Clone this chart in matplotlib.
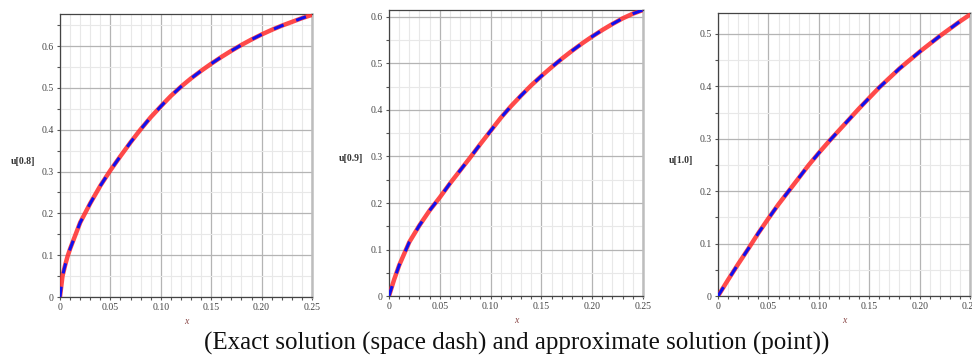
import numpy as np
import matplotlib
matplotlib.use("Agg")
import matplotlib.pyplot as plt
from matplotlib.ticker import MultipleLocator, FormatStrFormatter

# values, u(x) at t = 0.8, 0.9, 1.0
x08 = [0, 0.0025, 0.005, 0.0075, 0.01, 0.02, 0.03, 0.04, 0.05, 0.06, 0.07, 0.08, 0.09,
       0.10, 0.11, 0.12, 0.13, 0.14, 0.15, 0.16, 0.17, 0.18, 0.19, 0.20, 0.21, 0.22,
       0.23, 0.24, 0.25]
u08 = [0, 0.05, 0.075, 0.097, 0.115, 0.178, 0.224, 0.266, 0.303, 0.337, 0.37, 0.401, 0.43,
       0.456, 0.481, 0.503, 0.523, 0.541, 0.558, 0.574, 0.589, 0.603, 0.616, 0.628, 0.639,
       0.649, 0.658, 0.667, 0.675]

x09 = [0, 0.005, 0.01, 0.02, 0.03, 0.04, 0.05, 0.06, 0.07, 0.08, 0.09, 0.10, 0.11, 0.12,
       0.13, 0.14, 0.15, 0.16, 0.17, 0.18, 0.19, 0.20, 0.21, 0.22, 0.23, 0.24, 0.25]
u09 = [0, 0.035, 0.066, 0.116, 0.152, 0.184, 0.212, 0.242, 0.27, 0.298, 0.327, 0.355,
       0.383, 0.408, 0.431, 0.453, 0.473, 0.492, 0.51, 0.527, 0.543, 0.558, 0.572, 0.585,
       0.597, 0.607, 0.615]

x10 = [0, 0.01, 0.02, 0.03, 0.04, 0.05, 0.06, 0.07, 0.08, 0.09, 0.10, 0.11, 0.12, 0.13,
       0.14, 0.15, 0.16, 0.17, 0.18, 0.19, 0.20, 0.21, 0.22, 0.23, 0.24, 0.25]
u10 = [0, 0.031, 0.061, 0.09, 0.12, 0.148, 0.175, 0.2, 0.225, 0.25, 0.273, 0.295, 0.316,
       0.337, 0.358, 0.378, 0.398, 0.416, 0.434, 0.45, 0.466, 0.481, 0.496, 0.51, 0.524,
       0.537]

labels = ["u[0.8]", "u[0.9]", "u[1.0]"]
ytops = [0.677, 0.615, 0.54]
caption = "(Exact solution (space dash) and approximate solution (point))"

fig = plt.figure(figsize=(9.72, 3.56), dpi=100)
boxes = [[0.0617, 0.1657, 0.2593, 0.795],
         [0.4002, 0.1685, 0.2613, 0.8034],
         [0.7387, 0.1685, 0.2593, 0.795]]

for box, xs, us, lab, top in zip(boxes, [x08, x09, x10], [u08, u09, u10], labels, ytops):
    ax = fig.add_axes(box)
    # approximate solution (red points) under exact solution (blue dashes)
    ax.plot(xs, us, color="#ff2a2a", lw=3.2, alpha=0.85, solid_capstyle="round", zorder=3)
    ax.plot(xs, us, color="#1010ee", lw=2.2, ls=(0, (3.4, 4.4)), zorder=4)
    ax.xaxis.set_major_locator(MultipleLocator(0.05))
    ax.xaxis.set_minor_locator(MultipleLocator(0.01))
    ax.yaxis.set_major_locator(MultipleLocator(0.1))
    ax.yaxis.set_minor_locator(MultipleLocator(0.05))
    ax.set_xlim(0, 0.25)
    ax.set_ylim(0, top)
    xt = [v for v in ax.get_xticks() if v <= 0.25 + 1e-9]
    ax.set_xticks(xt)
    ax.set_xticklabels(["0" if v == 0 else "%.2f" % v for v in xt])
    yt = [v for v in ax.get_yticks() if v <= top + 1e-9]
    ax.set_yticks(yt)
    ax.set_yticklabels(["0" if v == 0 else "%.1f" % v for v in yt])
    ax.set_xlim(0, 0.25)
    ax.set_ylim(0, top)
    ax.grid(which="major", color="#b4b4b4", lw=0.9)
    ax.grid(which="minor", color="#e8e8e8", lw=0.8)
    ax.set_axisbelow(True)
    ax.tick_params(which="both", direction="out", length=2.5, width=0.8, color="#555555",
                   labelsize=7, labelcolor="#444444", pad=2)
    for t in ax.get_xticklabels() + ax.get_yticklabels():
        t.set_family("Liberation Serif")
    for s in ["left", "bottom", "top"]:
        ax.spines[s].set_color("#444444")
        ax.spines[s].set_linewidth(0.9)
    ax.spines["right"].set_color("#bdbdbd")
    ax.spines["right"].set_linewidth(1.8)
    ax.text(-0.148, 0.48, lab, transform=ax.transAxes, ha="center", va="center",
            fontsize=7, family="Liberation Serif", color="#333333", fontweight="bold")
    ax.text(0.5, -0.085, "x", transform=ax.transAxes, ha="center", va="center",
            fontsize=7, family="Liberation Serif", style="italic", color="#884444")

fig.text(0.532, 0.036, caption, ha="center", va="center", fontsize=18,
         family="Liberation Serif", color="#111111")

fig.savefig("out.png", dpi=100)
